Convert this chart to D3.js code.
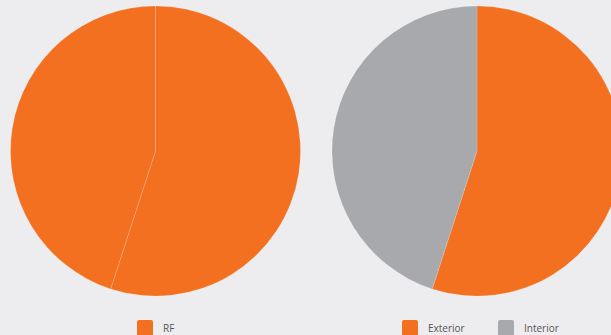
<!DOCTYPE html>
<html>
<head>
<meta charset="utf-8">
<script src="https://cdn.jsdelivr.net/npm/d3@7"></script>
<style>
  html, body { margin: 0; padding: 0; background: #ededef; overflow: hidden; }
  svg { display: block; }
</style>
</head>
<body>
<div id="wrapper"></div>
<script>
// left pie: two slices, both RF
const leftCategories = ["RF", "RF"]
const leftValues = [55, 45]
// right pie
const rightCategories = ["Exterior", "Interior"]
const rightValues = [55, 45]

const colorFor = {
  "RF": "#f37021",
  "Exterior": "#f37021",
  "Interior": "#a7a9ac",
}

const dimensions = {
  width: 611,
  height: 335,
  radius: 145,
  centerY: 151,
}

const svg = d3.select("#wrapper")
  .append("svg")
  .attr("width", dimensions.width)
  .attr("height", dimensions.height)

const pie = d3.pie().sort(null).value(d => d.value)
const arc = d3.arc().innerRadius(0).outerRadius(dimensions.radius)

// draw a pie + its legend
const drawPie = function(categories, values, cx, legendX, legendGap) {
  const data = categories.map((c, i) => ({ name: c, value: values[i] }))
  const g = svg.append("g")
    .attr("transform", `translate(${cx}, ${dimensions.centerY})`)

  g.selectAll("path")
    .data(pie(data))
    .join("path")
      .attr("d", arc)
      .attr("fill", d => colorFor[d.data.name])
      .attr("stroke", "rgba(255,255,255,0.25)")
      .attr("stroke-width", 0.6)

  // legend, unique names only
  const names = Array.from(new Set(categories))
  const legend = svg.append("g")
    .attr("transform", `translate(${legendX}, 320)`)
  const items = legend.selectAll("g")
    .data(names)
    .join("g")
      .attr("transform", (d, i) => `translate(${i * legendGap}, 0)`)
  items.append("rect")
    .attr("width", 16)
    .attr("height", 18)
    .attr("rx", 2)
    .attr("fill", d => colorFor[d])
  items.append("text")
    .attr("x", 26)
    .attr("y", 11.5)
    .attr("font-family", "'Open Sans', sans-serif")
    .attr("font-size", 10)
    .attr("fill", "#555")
    .text(d => d)
}

drawPie(leftCategories, leftValues, 155.5, 137, 96)
drawPie(rightCategories, rightValues, 477, 402, 96)
</script>
</body>
</html>
